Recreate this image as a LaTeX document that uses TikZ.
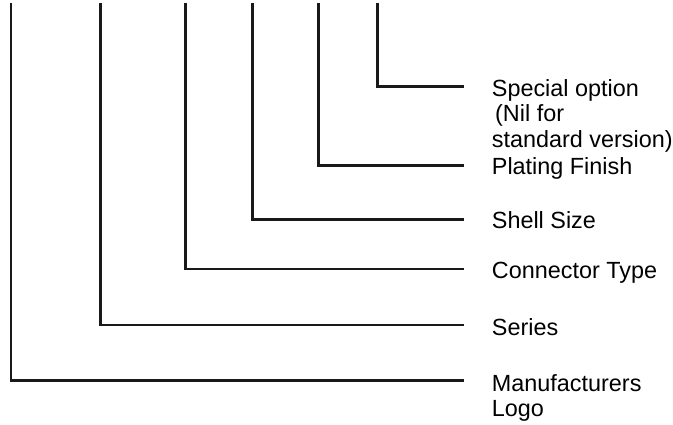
\documentclass[tikz,border=0pt]{standalone}
\usepackage{fontspec}
\setmainfont{Liberation Sans}
\begin{document}
\begin{tikzpicture}[x=1pt,y=-1pt,
  leader/.style={line width=2.2pt,draw=black!90,line join=miter},
  lbl/.style={anchor=base west,inner sep=0pt,align=left,
    font=\fontsize{23.4}{25.5}\selectfont}]
\useasboundingbox (0,0) rectangle (673,425);
% top ends of the leaders
\coordinate (t1) at (11,3);
\coordinate (t2) at (100.5,3);
\coordinate (t3) at (185.5,3);
\coordinate (t4) at (252.5,3);
\coordinate (t5) at (318.5,3);
\coordinate (t6) at (377.5,3);
% right ends of the leaders
\coordinate (e1) at (464,380.5);
\coordinate (e2) at (464,325);
\coordinate (e3) at (464,269);
\coordinate (e4) at (464,219.5);
\coordinate (e5) at (464,165.5);
\coordinate (e6) at (464,86.5);
% labels (base anchor = baseline of the last line)
\node[lbl] (l1) at (491.7,416.5) {Manufacturers\\Logo};
\node[lbl] (l2) at (491.7,335.5) {Series};
\node[lbl] (l3) at (491.7,278.5) {Connector Type};
\node[lbl] (l4) at (491.7,228.5) {Shell Size};
\node[lbl] (l5) at (491.7,174.5) {Plating Finish};
\node[lbl] (l6) at (491.7,147.5) {Special option\\\hspace*{3.3pt}(Nil for\\standard version)};
% leaders
\draw[leader] (t1) |- (e1);
\draw[leader] (t2) |- (e2);
\draw[leader] (t3) |- (e3);
\draw[leader] (t4) |- (e4);
\draw[leader] (t5) |- (e5);
\draw[leader] (t6) |- (e6);
\end{tikzpicture}
\end{document}
